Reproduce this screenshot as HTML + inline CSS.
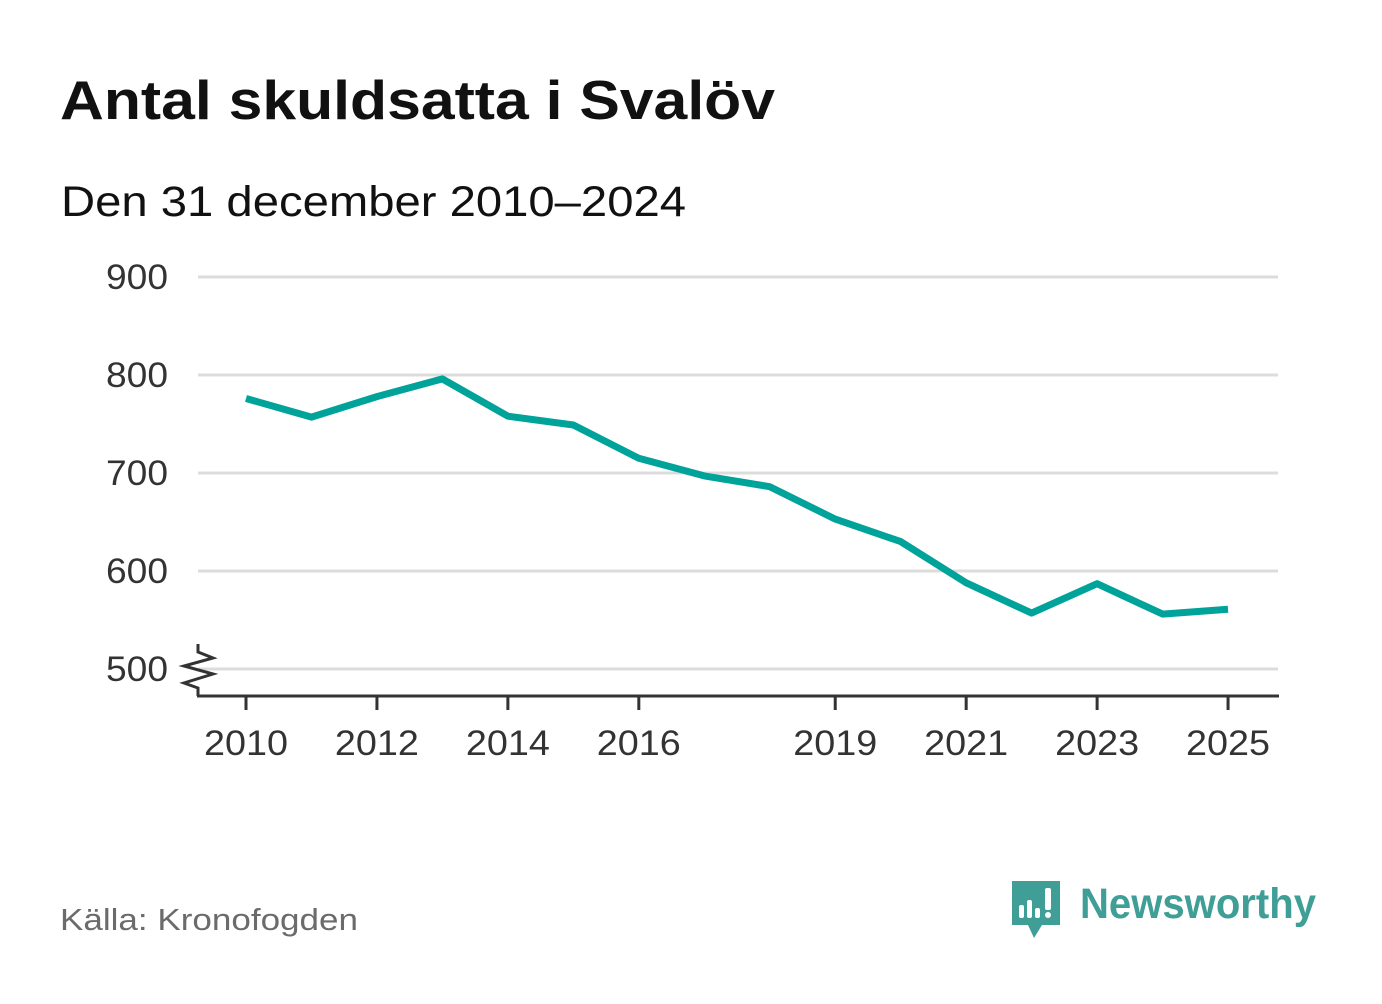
<!DOCTYPE html>
<html><head><meta charset="utf-8"><style>
body{margin:0;background:#fff;width:1382px;height:999px;overflow:hidden;font-family:"Liberation Sans",sans-serif}
</style></head><body>
<svg width="1382" height="999">
<text x="60" y="119" font-size="55" font-weight="bold" fill="#111" textLength="715" lengthAdjust="spacingAndGlyphs">Antal skuldsatta i Svalöv</text>
<text x="61" y="216" font-size="43" fill="#111" textLength="625" lengthAdjust="spacingAndGlyphs">Den 31 december 2010–2024</text>
<g id="grid"></g>
<g id="yt"></g>
<g id="xt"></g>
<path d="M198,644 L198,652 L213,658 L184,666 L213,674 L184,683 L198,688 L198,696" fill="none" stroke="#333" stroke-width="3"/>
<line x1="197" y1="696" x2="1279" y2="696" stroke="#333" stroke-width="3"/>
<path id="line" fill="none" stroke="#00a39a" stroke-width="7" stroke-linejoin="round"/>
<text x="60" y="930" font-size="31" fill="#6b6b6b" textLength="298" lengthAdjust="spacingAndGlyphs">Källa: Kronofogden</text>
<g>
<path d="M1012,881 h48 v44 h-18 l-8,13 l-6,-13 h-16 z" fill="#3f9e96"/>
<rect x="1019" y="905" width="5" height="13" fill="#fff" rx="2"/>
<rect x="1027" y="900" width="5" height="18" fill="#fff" rx="2"/>
<rect x="1035" y="908" width="5" height="10" fill="#fff" rx="2"/>
<rect x="1045" y="888" width="6" height="22" fill="#fff" rx="2"/>
<circle cx="1048" cy="915" r="3" fill="#fff"/>
<text x="1080" y="918" font-size="43" font-weight="bold" fill="#3f9e96" textLength="236" lengthAdjust="spacingAndGlyphs">Newsworthy</text>
</g>
</svg>
<script>
const years=[2010,2011,2012,2013,2014,2015,2016,2017,2018,2019,2020,2021,2022,2023,2024,2025];
const values=[776,757,778,796,758,749,715,697,686,653,630,588,557,587,556,561];
const yTicks=[500,600,700,800,900];
const xTicks=[2010,2012,2014,2016,2019,2021,2023,2025];
const NS="http://www.w3.org/2000/svg";
const x=v=>246+(v-2010)*65.47;
const y=v=>669-(v-500)*0.98;
function mk(t,a,p){const e=document.createElementNS(NS,t);for(const k in a)e.setAttribute(k,a[k]);p.appendChild(e);return e;}
const g=document.getElementById('grid'),yt=document.getElementById('yt'),xt=document.getElementById('xt');
yTicks.forEach(v=>{
 const l=mk('line',{x1:198,x2:1278,y1:y(v),y2:y(v),stroke:'#dcdcdc','stroke-width':3},g);
 
 
 const t=mk('text',{x:168,y:y(v)+12,'font-size':35,fill:'#333','text-anchor':'end',textLength:62,lengthAdjust:'spacingAndGlyphs'},yt);
 t.textContent=v;
 
 
});
xTicks.forEach(v=>{
 const l=mk('line',{x1:x(v),x2:x(v),y1:696,y2:710,stroke:'#333','stroke-width':3},xt);
 
 
 const t=mk('text',{x:x(v),y:755,'font-size':35,fill:'#333','text-anchor':'middle',textLength:84,lengthAdjust:'spacingAndGlyphs'},xt);
 t.textContent=v;
 
 
});
document.getElementById('line').setAttribute('d',values.map((v,i)=>(i?'L':'M')+x(years[i]).toFixed(1)+','+y(v).toFixed(1)).join(' '));
</script>
</body></html>
